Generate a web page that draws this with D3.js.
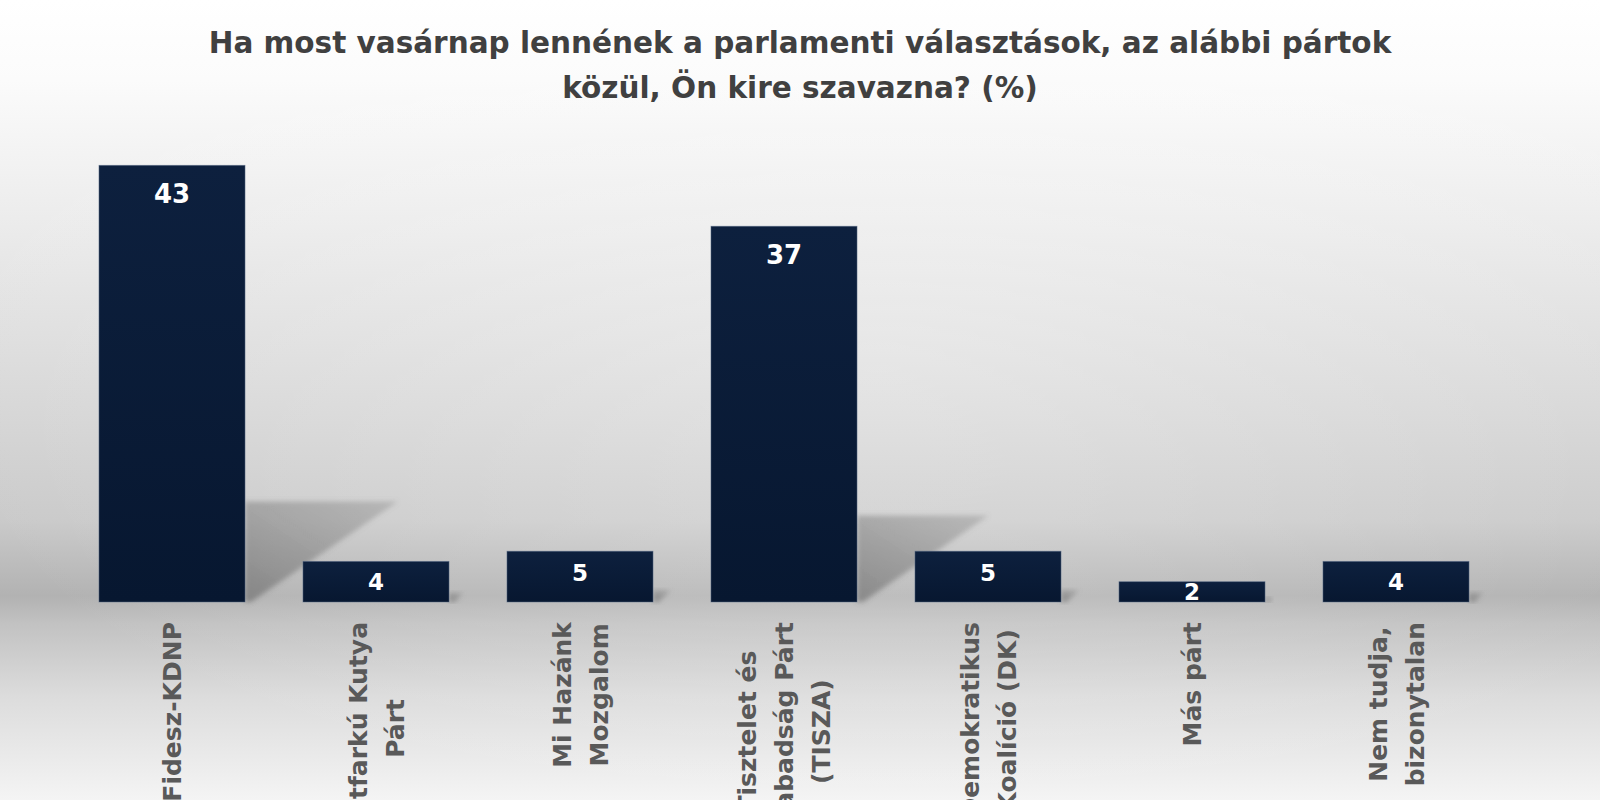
<!DOCTYPE html>
<html>
<head>
<meta charset="utf-8">
<script src="https://cdn.jsdelivr.net/npm/d3@7"></script>
<style>
  html, body { margin: 0; padding: 0; background: #fff; }
  svg { display: block; }
</style>
</head>
<body>
<div id="grafico"></div>
<script>
// data
var titleLines = ["Ha most vasárnap lennének a parlamenti választások, az alábbi pártok",
                  "közül, Ön kire szavazna? (%)"];
var parties = ["Fidesz-KDNP", "Kétfarkú Kutya Párt", "Mi Hazánk Mozgalom",
               "Tisztelet és Szabadság Párt (TISZA)", "Demokratikus Koalíció (DK)",
               "Más párt", "Nem tudja, bizonytalan"];
var partyLines = [["Fidesz-KDNP"], ["Kétfarkú Kutya", "Párt"], ["Mi Hazánk", "Mozgalom"],
                  ["Tisztelet és", "Szabadság Párt", "(TISZA)"], ["Demokratikus", "Koalíció (DK)"],
                  ["Más párt"], ["Nem tudja,", "bizonytalan"]];
var values = [43, 4, 5, 37, 5, 2, 4];

var width = 1600, height = 800;
var font = "'DejaVu Sans', Verdana, sans-serif";

var svg = d3.select("#grafico")
  .append("svg")
  .attr("width", width)
  .attr("height", height);

var defs = svg.append("defs");

// background: vertical grey gradient with the darkest band at the floor line
var bg = defs.append("linearGradient").attr("id", "bg")
  .attr("x1", 0).attr("y1", 0).attr("x2", 0).attr("y2", 1);
[[0, "#ffffff"], [0.1, "#fbfbfb"], [0.25, "#eeeeee"], [0.45, "#dcdcdc"],
 [0.65, "#cacaca"], [0.745, "#b2b2b2"], [0.78, "#c2c2c2"], [0.87, "#dcdcdc"], [1, "#f4f4f4"]]
  .forEach(function(s) { bg.append("stop").attr("offset", s[0]).attr("stop-color", s[1]); });

var glow = defs.append("radialGradient").attr("id", "glow")
  .attr("cx", 0.55).attr("cy", 0.45).attr("r", 0.6);
glow.append("stop").attr("offset", 0).attr("stop-color", "#fff").attr("stop-opacity", 0.3);
glow.append("stop").attr("offset", 1).attr("stop-color", "#fff").attr("stop-opacity", 0);

var barGrad = defs.append("linearGradient").attr("id", "barGrad")
  .attr("x1", 0).attr("y1", 0).attr("x2", 0).attr("y2", 1);
barGrad.append("stop").attr("offset", 0).attr("stop-color", "#0d203e");
barGrad.append("stop").attr("offset", 1).attr("stop-color", "#071730");

var shadowGrad = defs.append("linearGradient").attr("id", "shadowGrad")
  .attr("x1", 0).attr("y1", 1).attr("x2", 1).attr("y2", 0);
shadowGrad.append("stop").attr("offset", 0).attr("stop-color", "#555").attr("stop-opacity", 0.5);
shadowGrad.append("stop").attr("offset", 1).attr("stop-color", "#777").attr("stop-opacity", 0.3);

defs.append("filter").attr("id", "blur")
  .attr("x", "-20%").attr("y", "-20%").attr("width", "140%").attr("height", "140%")
  .append("feGaussianBlur").attr("stdDeviation", 2.5);

svg.append("rect").attr("width", width).attr("height", height).attr("fill", "url(#bg)");
svg.append("rect").attr("width", width).attr("height", height).attr("fill", "url(#glow)");

// scales
var x = d3.scaleBand()
  .domain(parties)
  .range([70, 1498])
  .paddingInner(0.284)
  .paddingOuter(0.142);

var y = d3.scaleLinear()
  .domain([0, 45])
  .range([602, 145]);

// title
svg.append("text")
  .attr("x", 800)
  .attr("y", 53)
  .attr("text-anchor", "middle")
  .style("font-family", font)
  .style("font-weight", 700)
  .style("font-size", "29.5px")
  .style("fill", "#404040")
  .selectAll("tspan")
  .data(titleLines)
  .enter()
  .append("tspan")
    .attr("x", 800)
    .attr("dy", function(d, i) { return i === 0 ? 0 : 45; })
    .text(function(d) { return d; });

// cast shadows on the floor
svg.append("g")
  .selectAll("path")
  .data(values)
  .enter()
  .append("path")
    .attr("d", function(d, i) {
      var x0 = x(parties[i]) + x.bandwidth();
      var h = y(0) - y(d);
      var top = y(0) - h * 0.23;
      return "M" + x0 + "," + y(0) + "L" + x0 + "," + top +
             "L" + (x0 + h * 0.35) + "," + top + "L" + (x0 + 6) + "," + y(0) + "Z";
    })
    .attr("fill", "url(#shadowGrad)")
    .attr("filter", "url(#blur)");

// bars
svg.append("g")
  .selectAll("rect")
  .data(values)
  .enter()
  .append("rect")
    .attr("x", function(d, i) { return x(parties[i]); })
    .attr("y", function(d) { return y(d); })
    .attr("width", x.bandwidth())
    .attr("height", function(d) { return y(0) - y(d); })
    .attr("fill", "url(#barGrad)")
    .attr("stroke", "#5a6c88")
    .attr("stroke-opacity", 0.6)
    .attr("stroke-width", 0.8);

// value labels
svg.append("g")
  .selectAll("text")
  .data(values)
  .enter()
  .append("text")
    .attr("x", function(d, i) { return x(parties[i]) + x.bandwidth() / 2; })
    .attr("y", function(d) {
      var h = y(0) - y(d);
      return y(d) + (h > 100 ? 28 : Math.min(21, h * 0.5));
    })
    .attr("dy", "0.36em")
    .attr("text-anchor", "middle")
    .style("font-family", font)
    .style("font-weight", 700)
    .style("font-size", function(d) { return (y(0) - y(d) > 100 ? 26 : 23) + "px"; })
    .style("fill", "#ffffff")
    .text(function(d) { return d; });

// category axis with rotated, wrapped labels
var xAxis = svg.append("g")
  .attr("transform", "translate(0," + y(0) + ")")
  .call(d3.axisBottom(x).tickSize(0).tickFormat(""));
xAxis.select(".domain").remove();

xAxis.selectAll(".tick").each(function(d, i) {
  var lines = partyLines[i];
  var t = d3.select(this).append("text")
    .attr("transform", "rotate(-90)")
    .attr("text-anchor", "middle")
    .style("font-family", font)
    .style("font-weight", 700)
    .style("font-size", "25px")
    .style("fill", "#595959");
  var spans = t.selectAll("tspan")
    .data(lines)
    .enter()
    .append("tspan")
      .attr("y", function(l, j) { return (j - (lines.length - 1) / 2) * 37 + 9; })
      .text(function(l) { return l; });
  var maxLen = 0;
  spans.each(function() { maxLen = Math.max(maxLen, this.getComputedTextLength()); });
  spans.attr("x", -(20 + maxLen / 2));
});
</script>
</body>
</html>
